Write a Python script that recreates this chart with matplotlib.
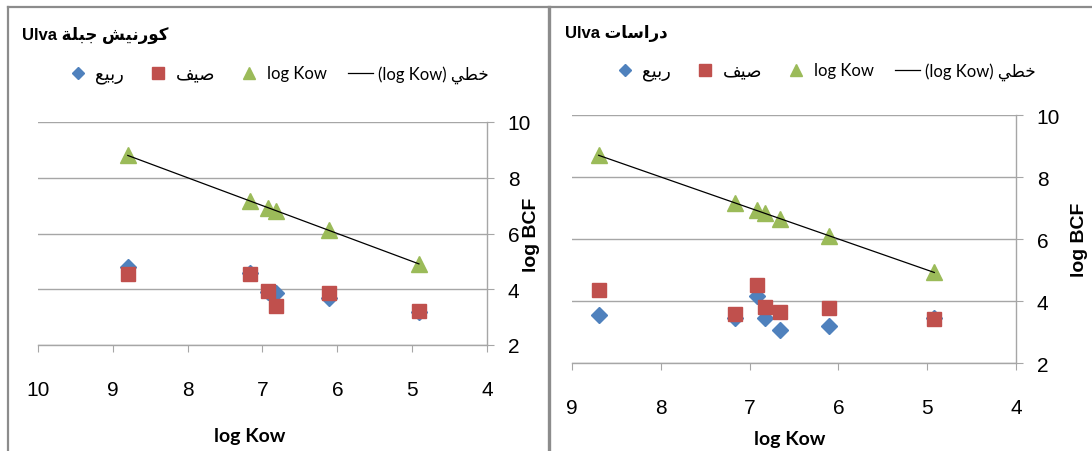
import numpy as np
import matplotlib.pyplot as plt
from matplotlib.lines import Line2D

# ---- data ----
# left panel: Jableh corniche
kow_L = [8.8, 7.17, 6.92, 6.82, 6.11, 4.91]
spring_L = [4.8, 4.6, 3.9, 3.85, 3.7, 3.2]
summer_L = [4.53, 4.53, 3.95, 3.41, 3.86, 3.23]
kowpt_L = [8.8, 7.17, 6.92, 6.82, 6.11, 4.91]

# right panel: studies
kow_R = [8.7, 7.17, 6.92, 6.83, 6.66, 6.11, 4.92]
spring_R = [3.56, 3.45, 4.15, 3.45, 3.08, 3.19, 3.45]
summer_R = [4.35, 3.58, 4.53, 3.81, 3.66, 3.78, 3.43]
kowpt_R = [8.7, 7.17, 6.92, 6.83, 6.66, 6.11, 4.92]

xticks_L = [10, 9, 8, 7, 6, 5, 4]
xticks_R = [9, 8, 7, 6, 5, 4]
yticks = [2, 4, 6, 8, 10]

# ---- simple arabic shaping (matplotlib does no joining / bidi) ----
# base code of isolated form, number of forms (2 = does not join to the next letter)
FORMS = {'ا': (0xFE8D, 2), 'ب': (0xFE8F, 4), 'ة': (0xFE93, 2), 'ت': (0xFE95, 4),
         'ج': (0xFE9D, 4), 'خ': (0xFEA5, 4), 'د': (0xFEA9, 2), 'ر': (0xFEAD, 2),
         'س': (0xFEB1, 4), 'ش': (0xFEB5, 4), 'ص': (0xFEB9, 4), 'ط': (0xFEC1, 4),
         'ع': (0xFEC9, 4), 'ف': (0xFED1, 4), 'ك': (0xFED9, 4), 'ل': (0xFEDD, 4),
         'ن': (0xFEE5, 4), 'و': (0xFEED, 2), 'ي': (0xFEF1, 4)}


def ar(word):
    out = []
    for i, c in enumerate(word):
        base, n = FORMS[c]
        prev = i > 0 and FORMS[word[i - 1]][1] == 4
        nxt = n == 4 and i < len(word) - 1
        if prev and nxt:
            k = 3
        elif nxt:
            k = 2
        elif prev:
            k = 1
        else:
            k = 0
        out.append(chr(base + k))
    return ''.join(out[::-1])


title_L = 'Ulva ' + ar('جبلة') + ' ' + ar('كورنيش')
title_R = 'Ulva ' + ar('دراسات')
labels = [ar('ربيع'), ar('صيف'), 'log Kow', '(log Kow) ' + ar('خطي')]

blue = '#4F81BD'
red = '#C0504D'
green = '#9BBB59'
gridc = '#A6A6A6'

W, H = 1092, 452
fig = plt.figure(figsize=(W / 100, H / 100), dpi=100)

calib = ['Lato', 'DejaVu Sans']
arial = ['Liberation Sans', 'DejaVu Sans']


def px(x, y):
    return x / W, 1 - y / H


# panel frames
border = '#8C8C8C'
fig.add_artist(Line2D([8 / W, 1], [1 - 8 / H, 1 - 8 / H], color=border, lw=1.6))
fig.add_artist(Line2D([8 / W, 8 / W], [0, 1 - 8 / H], color=border, lw=1.6))
fig.add_artist(Line2D([549 / W, 549 / W], [0, 1 - 8 / H], color=border, lw=2.4))


def panel(box, kow, spring, summer, kowpt, xticks, title, tpos, lpos, xlpos, ylx):
    x0, y0, x1, y1 = box
    ax = fig.add_axes([x0 / W, 1 - y1 / H, (x1 - x0) / W, (y1 - y0) / H])
    ax.plot(kow, spring, 'D', color=blue, ms=8, mec=blue)
    ax.plot(kow, summer, 's', color=red, ms=10.5, mec=red)
    ax.plot(kow, kowpt, '^', color=green, ms=11.5, mec=green)
    a, b = np.polyfit(kow, kowpt, 1)
    xs = np.array([max(kow), min(kow)])
    ax.plot(xs, a * xs + b, color='black', lw=0.9)

    ax.set_xlim(xticks[0], xticks[-1])
    ax.set_ylim(2, 10)
    ax.set_xticks(xticks)
    ax.set_yticks(yticks)
    ax.yaxis.tick_right()
    ax.yaxis.grid(True, color=gridc, lw=1)
    ax.set_axisbelow(True)
    for s in ['top', 'left']:
        ax.spines[s].set_visible(False)
    for s in ['bottom', 'right']:
        ax.spines[s].set_color(gridc)
        ax.spines[s].set_linewidth(1)
    ax.tick_params(axis='x', length=5, color=gridc, pad=20, labelsize=15)
    ax.tick_params(axis='y', length=5, color=gridc, pad=10, labelsize=15)
    for t in ax.get_xticklabels() + ax.get_yticklabels():
        t.set_family(arial)

    fig.text(*px(*tpos), title, family=arial, fontsize=12, weight='bold', va='center', ha='left')
    fig.text(*px(*xlpos), 'log Kow', family=calib, fontsize=14, weight='bold', va='center', ha='center')
    fig.text(*px(ylx, (y0 + y1) / 2), 'log BCF', family=arial, fontsize=14, weight='bold',
             rotation=90, va='center', ha='center')

    handles = [Line2D([], [], ls='', marker='D', color=blue, ms=6),
               Line2D([], [], ls='', marker='s', color=red, ms=8),
               Line2D([], [], ls='', marker='^', color=green, ms=8.5),
               Line2D([], [], color='black', lw=0.9)]
    leg = fig.legend(handles, labels, ncol=4, frameon=False, loc='center left',
                     bbox_to_anchor=px(*lpos), prop={'family': calib, 'size': 12},
                     handlelength=1.5, handletextpad=0.3, columnspacing=1.3,
                     borderpad=0, borderaxespad=0)
    for t in leg.get_texts()[:2]:
        t.set_fontsize(13)
    return ax


panel((38, 123, 487, 346), kow_L, spring_L, summer_L, kowpt_L, xticks_L,
      title_L, (22, 35), (65, 75), (250, 437), 532)
panel((572, 116, 1016, 364), kow_R, spring_R, summer_R, kowpt_R, xticks_R,
      title_R, (565, 33), (612, 72), (790, 440), 1080)

fig.savefig('out.png', dpi=100)
